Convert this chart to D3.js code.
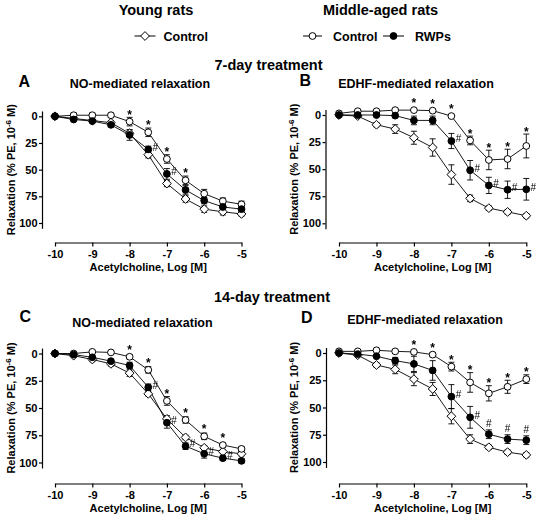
<!DOCTYPE html>
<html><head><meta charset="utf-8">
<script src="https://cdn.jsdelivr.net/npm/d3@7"></script>
<style>
body{margin:0;background:#fff}
svg{display:block}
text{font-family:"Liberation Sans",Arial,Helvetica,sans-serif}
</style>
</head><body>
<svg id="c" width="537" height="516">
  <defs>
    <filter id="mono" x="-20%" y="-20%" width="140%" height="140%">
      <feColorMatrix type="saturate" values="0"/>
    </filter>
  </defs>
</svg>
<script>
// ---------- data ----------
const logConc = [-10, -9.5, -9, -8.5, -8, -7.5, -7, -6.5, -6, -5.5, -5];
const xTicks = [-10, -9, -8, -7, -6, -5];
const yTicks = [0, 25, 50, 75, 100];
const seriesNames = ["Young Control", "Middle-aged Control", "Middle-aged RWPs"];

// Panel A: 7-day, NO-mediated
const youngA    = [0, 2, 4, 6, 16, 36, 63, 77.5, 87, 89.5, 91.5];
const youngSemA = [1, 1, 1, 2, 3, 3, 3, 3, 3, 3, 2];
const midA      = [0, -1, -1, -1, 5, 15, 40, 60, 72.5, 79.5, 82.5];
const midSemA   = [1, 2, 2, 2, 4, 4, 4, 4, 4, 3, 3];
const rwpA      = [0, 3, 4.5, 8, 17.5, 31, 54, 69, 79, 85, 87];
const rwpSemA   = [1, 1, 1, 2, 5, 3, 5, 4, 3, 3, 3];
const starA = [-8, -7.5, -7, -6.5];
const hashA = [-7.5, -7];

// Panel B: 7-day, EDHF-mediated
const youngB    = [0, 1, 9, 13, 21, 30, 55, 77, 86, 89.5, 93];
const youngSemB = [1, 1, 2, 4, 6, 8, 9, 3, 2, 2, 2];
const midB      = [-1.5, -3.5, -3.5, -4.5, -4.5, -4, 1, 23.5, 41.5, 40.6, 28.6];
const midSemB   = [1, 1, 1, 1, 1, 1, 1, 4, 9, 9, 11];
const rwpB      = [0, 0, 0, 0.6, 5, 5, 24, 51, 65, 69, 68.6];
const rwpSemB   = [1, 1, 1, 1, 4, 4, 7, 9, 7.5, 8, 10];
const starB = [-8, -7.5, -7, -6.5, -6, -5.5, -5];
const hashB = [-7, -6.5, -6, -5.5, -5];

// Panel C: 14-day, NO-mediated
const youngC    = [0, 2, 5.5, 9.5, 18, 37, 60, 77, 86.5, 90, 92];
const youngSemC = [1, 1, 2, 2, 3, 2, 3, 2, 2, 2, 2];
const midC      = [0, 0, -1.5, -1, 3, 15, 43.5, 61, 76, 84, 87.5];
const midSemC   = [1, 1, 1, 1, 2, 3, 4, 3, 3, 2, 2];
const rwpC      = [0, 1, 3.5, 7, 11, 31, 63.5, 85, 92, 96, 98.5];
const rwpSemC   = [1, 1, 1, 2, 3, 3, 5, 3, 4, 2, 2];
const starC = [-8, -7.5, -7, -6.5, -6, -5.5];
const hashC = [-7.5, -7, -6.5, -6, -5.5];

// Panel D: 14-day, EDHF-mediated
const youngD    = [0, 2, 11, 15, 24, 33, 58, 79, 86.5, 91, 93.5];
const youngSemD = [1, 1, 2, 4, 6, 6, 7, 4, 2, 2, 2];
const midD      = [-1.5, -1.5, -2.5, -1.5, -1, 1.5, 12.5, 27, 37, 31, 24];
const midSemD   = [1, 1, 1, 1, 2, 2, 4, 9, 7, 6, 4];
const rwpD      = [0, 1, 3, 7, 10, 16, 40, 59, 74.5, 79, 80];
const rwpSemD   = [1, 1, 1, 3, 7, 9, 11, 10, 4, 4, 4];
const starD = [-8, -7.5, -7, -6.5, -6, -5.5, -5];
const hashD = [-7, -6.5, -6, -5.5, -5];
const hashAboveD = [-6, -5.5, -5];

// ---------- drawing ----------
const FONT = '"Liberation Sans",Arial,Helvetica,sans-serif';
const svg = d3.select('#c');

function txt(parent, x, y, s, size, opts = {}) {
  return parent.append('text').attr('x', x).attr('y', y)
    .attr('font-size', size).attr('font-weight', opts.weight || 'bold')
    .attr('text-anchor', opts.anchor || 'middle').attr('fill', '#000').text(s);
}

const panels = [
  {letter:'A', title:'NO-mediated relaxation', young:youngA, youngSem:youngSemA, mid:midA, midSem:midSemA, rwp:rwpA, rwpSem:rwpSemA, stars:starA, hashes:hashA, above:[],
   ax:42, x0:55, x1:241.5, y0:116.3, y100:223, xAxY:242.5, lx:18.5, ly:86.5, tx:140, ty:88, ytx:11},
  {letter:'B', title:'EDHF-mediated relaxation', young:youngB, youngSem:youngSemB, mid:midB, midSem:midSemB, rwp:rwpB, rwpSem:rwpSemB, stars:starB, hashes:hashB, above:[],
   ax:325.5, x0:339, x1:526.3, y0:115, y100:223.3, xAxY:242.5, lx:299.5, ly:86, tx:416, ty:88, ytx:294},
  {letter:'C', title:'NO-mediated relaxation', young:youngC, youngSem:youngSemC, mid:midC, midSem:midSemC, rwp:rwpC, rwpSem:rwpSemC, stars:starC, hashes:hashC, above:[],
   ax:42, x0:55, x1:241.5, y0:353.5, y100:462.5, xAxY:483.5, lx:19.5, ly:321.5, tx:142.5, ty:326.5, ytx:11},
  {letter:'D', title:'EDHF-mediated relaxation', young:youngD, youngSem:youngSemD, mid:midD, midSem:midSemD, rwp:rwpD, rwpSem:rwpSemD, stars:starD, hashes:hashD, above:hashAboveD,
   ax:326, x0:339, x1:526.3, y0:353, y100:462, xAxY:483.5, lx:301, ly:322.5, tx:425, ty:324, ytx:294}
];

const R = 3.4, DS = 4.4, CAP = 3;

function marker(g, cx, cy, shape, fill) {
  if (shape === 'diamond') {
    g.append('path').attr('d', `M${cx},${cy-DS}L${cx+DS},${cy}L${cx},${cy+DS}L${cx-DS},${cy}Z`)
      .attr('fill', fill).attr('stroke', '#000').attr('stroke-width', 1);
  } else {
    g.append('circle').attr('cx', cx).attr('cy', cy).attr('r', R)
      .attr('fill', fill).attr('stroke', '#000').attr('stroke-width', 1);
  }
}

panels.forEach(p => {
  const x = d3.scaleLinear().domain([-10, -5]).range([p.x0, p.x1]);
  const y = d3.scaleLinear().domain([0, 100]).range([p.y0, p.y100]);
  const yAx = d3.scaleLinear().domain([-5, 105]).range([y(-5), y(105)]);

  // y axis
  svg.append('g').attr('transform', `translate(${p.ax},0)`)
    .call(d3.axisLeft(yAx).tickValues(yTicks).tickSize(3).tickSizeOuter(0).tickPadding(1.5).tickFormat(d => String(d)))
    .attr('font-family', FONT).attr('font-size', 11).attr('font-weight', 'bold')
    .call(g => g.selectAll('path,line').attr('stroke', '#000').attr('stroke-width', 1.2));

  // x axis
  svg.append('g').attr('transform', `translate(0,${p.xAxY})`)
    .call(d3.axisBottom(x).tickValues(xTicks).tickSize(4).tickSizeOuter(0).tickPadding(4).tickFormat(d => String(d)))
    .attr('font-family', FONT).attr('font-size', 11).attr('font-weight', 'bold')
    .call(g => g.selectAll('path,line').attr('stroke', '#000').attr('stroke-width', 1.2));

  // axis titles
  txt(svg, (p.x0 + p.x1) / 2, p.xAxY + 28, 'Acetylcholine, Log [M]', 11);
  const yc = (y(-5) + y(105)) / 2;
  const yt = svg.append('text').attr('transform', `translate(${p.ytx + 4},${yc}) rotate(-90)`)
    .attr('font-size', 11).attr('font-weight', 'bold').attr('text-anchor', 'middle').attr('fill', '#000');
  yt.append('tspan').text('Relaxation (% PE, 10');
  yt.append('tspan').attr('dy', -4).attr('font-size', 8).text('-6');
  yt.append('tspan').attr('dy', 4).text(' M)');

  // letter & title
  txt(svg, p.lx, p.ly, p.letter, 16, {anchor: 'start'});
  txt(svg, p.tx, p.ty, p.title, 12.5);

  const series = [
    {vals: p.young, sem: p.youngSem, shape: 'diamond', fill: '#fff'},
    {vals: p.mid, sem: p.midSem, shape: 'circle', fill: '#fff'},
    {vals: p.rwp, sem: p.rwpSem, shape: 'circle', fill: '#000'}
  ];
  const g = svg.append('g');
  const line = d3.line().x((d, i) => x(logConc[i])).y(d => y(d));
  series.forEach(s => {
    g.append('path').attr('d', line(s.vals)).attr('fill', 'none').attr('stroke', '#000').attr('stroke-width', 0.9);
  });
  series.forEach(s => {
    s.vals.forEach((v, i) => {
      const cx = x(logConc[i]);
      const yt2 = y(v - s.sem[i]), yb = y(v + s.sem[i]);
      g.append('line').attr('x1', cx).attr('x2', cx).attr('y1', yt2).attr('y2', yb).attr('stroke', '#000').attr('stroke-width', 0.9);
      [yt2, yb].forEach(yy => g.append('line').attr('x1', cx - CAP).attr('x2', cx + CAP).attr('y1', yy).attr('y2', yy).attr('stroke', '#000').attr('stroke-width', 0.9));
    });
  });
  series.forEach(s => {
    s.vals.forEach((v, i) => marker(g, x(logConc[i]), y(v), s.shape, s.fill));
  });

  const sig = svg.append('g').attr('filter', 'url(#mono)');
  // significance: * over middle-aged control
  p.stars.forEach(c => {
    const i = logConc.indexOf(c);
    const cy = y(p.mid[i]);
    const top = Math.min(y(p.mid[i] - p.midSem[i]), cy - R - 1);
    txt(sig, x(c), top + 1.5, '*', 12, {weight: 'bold'});
  });
  // # next to RWPs
  p.hashes.forEach(c => {
    const i = logConc.indexOf(c);
    const cx = x(c), cy = y(p.rwp[i]);
    if (p.above.includes(c)) {
      const top = Math.min(y(p.rwp[i] - p.rwpSem[i]), cy - R - 1);
      txt(sig, cx, top - 2.5, '#', 10, {weight: 'normal'});
    } else {
      txt(sig, cx + 4.3, cy + 1.3, '#', 10, {weight: 'normal', anchor: 'start'});
    }
  });
});

// ---------- headers & legend ----------
txt(svg, 156, 14.5, 'Young rats', 14.5);
txt(svg, 380.5, 14.5, 'Middle-aged rats', 14.5);
txt(svg, 268.5, 69.5, '7-day treatment', 14.5);
txt(svg, 272, 302, '14-day treatment', 14.5);

const lg = svg.append('g');
const legendItems = [
  {cx: 145, x1: 134.5, x2: 155.5, shape: 'diamond', fill: '#fff', label: seriesNames[0], text: 'Control', tx: 163.5},
  {cx: 312.5, x1: 303, x2: 322, shape: 'circle', fill: '#fff', label: seriesNames[1], text: 'Control', tx: 333},
  {cx: 393.5, x1: 383, x2: 404, shape: 'circle', fill: '#000', label: seriesNames[2], text: 'RWPs', tx: 415}
];
legendItems.forEach(it => {
  lg.append('line').attr('x1', it.x1).attr('x2', it.x2).attr('y1', 36).attr('y2', 36).attr('stroke', '#000').attr('stroke-width', 1);
  marker(lg, it.cx, 36, it.shape, it.fill);
  txt(lg, it.tx, 40.5, it.text, 12.5, {anchor: 'start'});
});
</script>
</body></html>
